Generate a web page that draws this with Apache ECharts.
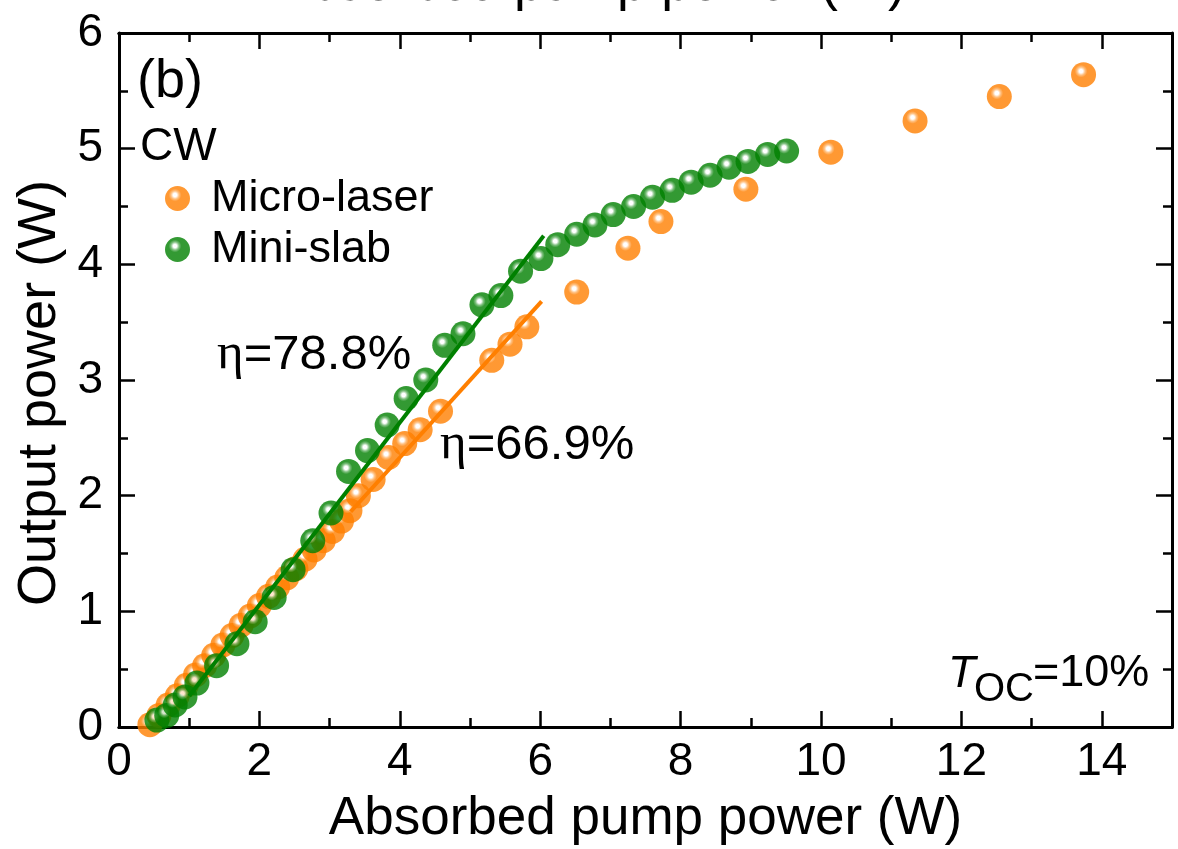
<!DOCTYPE html>
<html>
<head>
<meta charset="utf-8">
<script src="https://cdn.jsdelivr.net/npm/echarts@6.0.0/dist/echarts.min.js"></script>
<style>
  html, body { margin: 0; padding: 0; background: #ffffff; }
  #chart { width: 1178px; height: 849px; }
</style>
</head>
<body>
<div id="chart"></div>
<script>
// Micro-laser, CW output power versus absorbed pump power (W)
const microPump = [0.44, 0.57, 0.70, 0.83, 0.96, 1.09, 1.22, 1.35, 1.48, 1.61, 1.74, 1.87,
  2.00, 2.13, 2.26, 2.39, 2.52, 2.65, 2.78, 2.91, 3.04, 3.17, 3.29, 3.41, 3.62, 3.84,
  4.07, 4.29, 4.58, 5.31, 5.57, 5.81, 6.52, 7.25, 7.72, 8.93, 10.14, 11.34, 12.54, 13.74];
const microOut = [0.02, 0.10, 0.19, 0.27, 0.36, 0.45, 0.53, 0.62, 0.71, 0.79, 0.88, 0.96,
  1.05, 1.13, 1.21, 1.29, 1.37, 1.45, 1.53, 1.61, 1.69, 1.78, 1.87, 2.00, 2.14, 2.33,
  2.45, 2.57, 2.73, 3.17, 3.31, 3.46, 3.76, 4.14, 4.37, 4.65, 4.97, 5.24, 5.45, 5.64];

// Mini-slab, CW output power versus absorbed pump power (W)
const slabPump = [0.54, 0.68, 0.80, 0.94, 1.11, 1.39, 1.68, 1.94, 2.21, 2.48, 2.76, 3.02,
  3.27, 3.54, 3.82, 4.09, 4.37, 4.64, 4.90, 5.17, 5.44, 5.72, 6.01, 6.25, 6.52, 6.78,
  7.04, 7.33, 7.60, 7.88, 8.15, 8.42, 8.69, 8.96, 9.24, 9.51];
const slabOut = [0.06, 0.10, 0.19, 0.26, 0.38, 0.53, 0.72, 0.91, 1.12, 1.36, 1.61, 1.85,
  2.21, 2.39, 2.61, 2.84, 3.00, 3.30, 3.40, 3.65, 3.73, 3.94, 4.05, 4.17, 4.26, 4.34,
  4.43, 4.50, 4.58, 4.64, 4.71, 4.77, 4.84, 4.89, 4.95, 4.98];

// Linear fits: slope efficiency and intercept, over the fitted pump range
const microFit = { slope: 0.669, intercept: -0.347, from: 3.3, to: 6.02 };
const slabFit  = { slope: 0.788, intercept: -0.52,  from: 1.0, to: 6.05 };

const seriesNames = ['Micro-laser', 'Mini-slab'];
const xRange = [0, 15];
const yRange = [0, 6];

const ORANGE = '#ff7f00';
const GREEN = '#008000';
const FONT = '"Liberation Sans", Arial, sans-serif';

function zip(xs, ys) { return xs.map((x, i) => [x, ys[i]]); }
function fitLine(f) {
  return [[f.from, f.slope * f.from + f.intercept], [f.to, f.slope * f.to + f.intercept]];
}
// Glossy sphere fill: small white highlight toward the upper left
function ball(base, light) {
  return {
    type: 'radial', x: 0.4, y: 0.36, r: 0.6,
    colorStops: [
      { offset: 0, color: '#ffffff' },
      { offset: 0.12, color: '#ffffff' },
      { offset: 0.27, color: light },
      { offset: 0.42, color: base },
      { offset: 1, color: base }
    ]
  };
}

const chart = echarts.init(document.getElementById('chart'), null, { renderer: 'canvas' });

const frameLine = { show: true, onZero: false, lineStyle: { color: '#000', width: 3 } };
function xAxisDef(position, interval, tickLen, labels) {
  return {
    type: 'value', position: position, min: xRange[0], max: xRange[1], interval: interval,
    axisLine: frameLine,
    axisTick: { show: true, inside: true, length: tickLen, lineStyle: { color: '#000', width: 2.5 } },
    axisLabel: labels ? {
      show: true, showMaxLabel: false, margin: 12,
      fontSize: 46, color: '#000', fontFamily: FONT
    } : { show: false },
    splitLine: { show: false }
  };
}
function yAxisDef(position, labels) {
  return {
    type: 'value', position: position, min: yRange[0], max: yRange[1], interval: 1,
    axisLine: frameLine,
    axisTick: { show: true, inside: true, length: 16, lineStyle: { color: '#000', width: 2.5 } },
    minorTick: { show: true, splitNumber: 2, length: 9, lineStyle: { color: '#000', width: 2.5 } },
    axisLabel: labels ? { show: true, margin: 16, fontSize: 46, color: '#000', fontFamily: FONT } : { show: false },
    splitLine: { show: false }
  };
}

const xMain = xAxisDef('bottom', 2, 16, true);
xMain.name = 'Absorbed pump power (W)';
xMain.nameLocation = 'middle';
xMain.nameGap = 66;
xMain.nameTextStyle = { fontSize: 53, color: '#000', fontFamily: FONT };

const option = {
  backgroundColor: '#ffffff',
  animation: false,
  grid: { left: 119, right: 6, top: 33, bottom: 122, containLabel: false, outerBoundsMode: 'none' },
  xAxis: [
    xMain,
    xAxisDef('bottom', 1, 9, false),
    xAxisDef('top', 2, 16, false),
    xAxisDef('top', 1, 9, false)
  ],
  yAxis: [yAxisDef('left', true), yAxisDef('right', false)],
  legend: {
    data: seriesNames,
    orient: 'vertical',
    left: 165, top: 176,
    icon: 'circle',
    itemWidth: 57, itemHeight: 25, itemGap: 6,
    padding: 0,
    textStyle: { fontSize: 45, color: '#000', fontFamily: FONT }
  },
  series: [
    {
      name: seriesNames[0], type: 'scatter', symbol: 'circle', symbolSize: 25,
      itemStyle: { color: ball(ORANGE, '#ffb060') },
      data: zip(microPump, microOut), z: 2
    },
    {
      name: 'micro-fit', type: 'line', symbol: 'none', silent: true,
      lineStyle: { color: ORANGE, width: 4 },
      data: fitLine(microFit), z: 3
    },
    {
      name: seriesNames[1], type: 'scatter', symbol: 'circle', symbolSize: 25,
      itemStyle: { color: ball(GREEN, '#60b060') },
      data: zip(slabPump, slabOut), z: 4
    },
    {
      name: 'slab-fit', type: 'line', symbol: 'none', silent: true,
      lineStyle: { color: GREEN, width: 4 },
      data: fitLine(slabFit), z: 5
    }
  ],
  graphic: [
    {
      type: 'text', left: 'center', top: -41, silent: true,
      style: { text: 'Absorbed pump power (W)', fontSize: 53, fontFamily: FONT, fill: '#000' }
    },
    {
      type: 'text', x: 40, y: 393, rotation: Math.PI / 2, silent: true,
      style: {
        text: 'Output power (W)', fontSize: 54, fontFamily: FONT, fill: '#000',
        align: 'center', verticalAlign: 'middle'
      }
    },
    {
      type: 'text', x: 137, y: 82, silent: true,
      style: { text: '(b)', fontSize: 54, fontFamily: FONT, fill: '#000', verticalAlign: 'middle' }
    },
    {
      type: 'text', x: 140, y: 147, silent: true,
      style: { text: 'CW', fontSize: 46, fontFamily: FONT, fill: '#000', verticalAlign: 'middle' }
    },
    {
      type: 'text', x: 217, y: 355, silent: true,
      style: {
        text: '{e|η}=78.8%', fontSize: 49, fontFamily: FONT, fill: '#000', verticalAlign: 'middle',
        rich: { e: { fontSize: 51, fontFamily: '"Liberation Serif", serif', fill: '#000' } }
      }
    },
    {
      type: 'text', x: 440, y: 445, silent: true,
      style: {
        text: '{e|η}=66.9%', fontSize: 49, fontFamily: FONT, fill: '#000', verticalAlign: 'middle',
        rich: { e: { fontSize: 51, fontFamily: '"Liberation Serif", serif', fill: '#000' } }
      }
    },
    {
      type: 'text', x: 948, y: 674, silent: true,
      style: { text: 'T', fontSize: 45, fontStyle: 'italic', fontFamily: FONT, fill: '#000', verticalAlign: 'middle' }
    },
    {
      type: 'text', x: 974, y: 690, silent: true,
      style: { text: 'OC', fontSize: 40, fontFamily: FONT, fill: '#000', verticalAlign: 'middle' }
    },
    {
      type: 'text', x: 1033, y: 674, silent: true,
      style: { text: '=10%', fontSize: 45, fontFamily: FONT, fill: '#000', verticalAlign: 'middle' }
    }
  ]
};

chart.setOption(option);
</script>
</body>
</html>
